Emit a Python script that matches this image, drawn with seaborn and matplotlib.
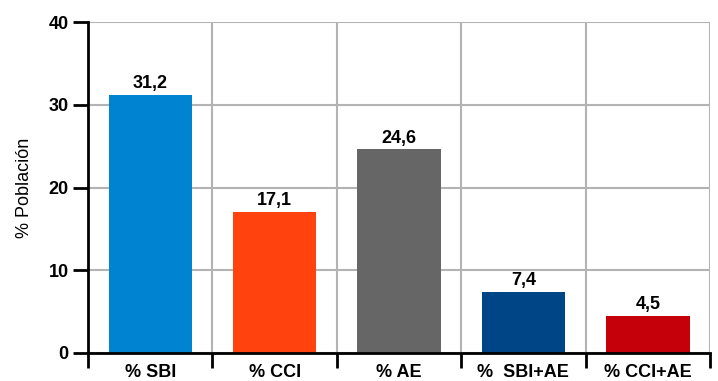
import matplotlib.pyplot as plt
import seaborn as sns
import pandas as pd
import numpy as np

categories = ['% SBI', '% CCI', '% AE', '%  SBI+AE', '% CCI+AE']
values = [31.2, 17.1, 24.6, 7.4, 4.5]
colors = ['#0084d1', '#ff420e', '#666666', '#004586', '#c5000b']
y_ticks = [0, 10, 20, 30, 40]

sns.set_style("white")
plt.rcParams['font.family'] = ['Liberation Sans', 'DejaVu Sans']
plt.rcParams['text.color'] = 'black'
plt.rcParams['axes.labelcolor'] = 'black'
plt.rcParams['xtick.color'] = 'black'
plt.rcParams['ytick.color'] = 'black'

df = pd.DataFrame({'cat': categories, 'val': values})

fig = plt.figure(figsize=(7.18, 3.81), dpi=100)
ax = fig.add_axes([0.1226, 0.0735, 0.8663, 0.8685])
sns.barplot(data=df, x='cat', y='val', hue='cat', palette=colors,
            width=0.67, legend=False, saturation=1, linewidth=0, ax=ax, zorder=3)

for cont in ax.containers:
    ax.bar_label(cont, labels=[f"{v:.1f}".replace('.', ',') for v in cont.datavalues],
                 padding=2, fontsize=13, fontweight='bold')

n = len(categories)
ax.set_xlim(-0.5, n - 0.5)
ax.set_ylim(0, 40)
ax.set_yticks(y_ticks)
ax.set_xticks(np.arange(-0.5, n), minor=True)
ax.grid(True, which='minor', axis='x', color='#b3b3b3', linewidth=1.5, zorder=0)
ax.grid(True, which='major', axis='y', color='#b3b3b3', linewidth=1.5, zorder=0)
ax.tick_params(axis='x', which='major', length=0, labelsize=13, pad=8, bottom=True)
ax.tick_params(axis='x', which='minor', length=11, width=2, color='black',
               direction='out', bottom=True)
ax.tick_params(axis='y', length=11, width=2, color='black', direction='out',
               labelsize=13, pad=3, left=True)
for lbl in ax.get_xticklabels() + ax.get_yticklabels():
    lbl.set_fontweight('bold')

ax.set_xlabel('')
ax.set_ylabel('% Población', fontsize=13, labelpad=11)
for side in ['top', 'right']:
    ax.spines[side].set_visible(False)
for side in ['left', 'bottom']:
    ax.spines[side].set_color('black')
    ax.spines[side].set_linewidth(2)
    ax.spines[side].set_zorder(4)

plt.savefig('out.png', dpi=100)
plt.close()
